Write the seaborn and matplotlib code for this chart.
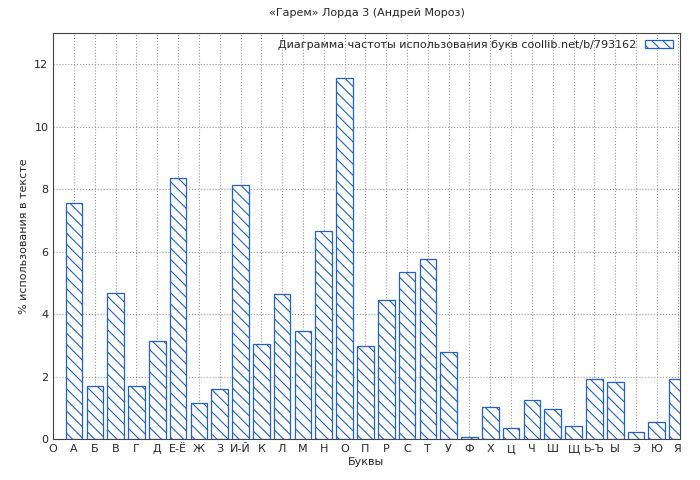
import matplotlib
matplotlib.use("Agg")
import matplotlib.pyplot as plt
import seaborn as sns
import numpy as np

tick_labels = ["О","А","Б","В","Г","Д","Е-Ё","Ж","З","И-Й","К","Л","М","Н","О","П","Р","С","Т","У","Ф","Х","Ц","Ч","Ш","Щ","Ь-Ъ","Ы","Э","Ю","Я"]
letters = tick_labels[1:]
values = [7.55,1.7,4.67,1.7,3.14,8.35,1.15,1.6,8.13,3.04,4.64,3.46,6.66,11.55,2.98,4.45,5.34,5.76,2.78,0.07,1.02,0.35,1.25,0.96,0.42,1.92,1.82,0.22,0.54,1.92]

sns.set_style("white")
plt.rcParams['font.family'] = ['DejaVu Sans']
plt.rcParams['hatch.color'] = '#1f5fd0'
plt.rcParams['hatch.linewidth'] = 0.8
fig, ax = plt.subplots(figsize=(7, 4.8), dpi=100)
fig.subplots_adjust(left=0.076, right=0.971, top=0.931, bottom=0.085)
pos = np.arange(1, len(values) + 1)
sns.barplot(x=pos, y=values, native_scale=True, width=0.8, color="white",
            edgecolor="#1f5fd0", linewidth=0.9, hatch="\\\\\\", ax=ax,
            label="Диаграмма частоты использования букв coollib.net/b/793162")
ax.set_xlim(0, 30.1)
ax.set_ylim(0, 13)
ax.set_xticks(range(0, 31))
ax.set_xticklabels(tick_labels, fontsize=8)
ax.set_yticks(range(0, 13, 2))
ax.tick_params(labelsize=8, length=3, direction='in')
ax.grid(True, linestyle=':', color='#999999', linewidth=0.8)
ax.set_axisbelow(True)
for s in ax.spines.values():
    s.set_color('#444444')
ax.set_xlabel("Буквы", fontsize=8, labelpad=2)
ax.set_ylabel("% использования в тексте", fontsize=8)
ax.set_title("«Гарем» Лорда 3 (Андрей Мороз)", fontsize=8, pad=12)
ax.legend(loc='upper right', fontsize=8, frameon=False, markerfirst=False,
          handlelength=2.5, borderaxespad=0.2)
fig.savefig("out.png")
